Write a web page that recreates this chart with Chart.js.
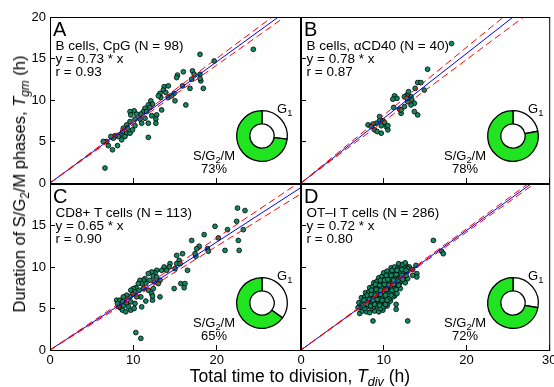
<!DOCTYPE html>
<html>
<head>
<meta charset="utf-8">
<script src="https://cdn.jsdelivr.net/npm/chart.js@4.4.1/dist/chart.umd.min.js"></script>
<style>
  html, body { margin: 0; padding: 0; background: #fff; }
  #wrap { position: relative; width: 554px; height: 387px; overflow: hidden; font-family: 'Liberation Sans', Arial, sans-serif; color: #000; }
  #wrap canvas { position: absolute; }
  .t { position: absolute; white-space: nowrap; }
  .s { font-size: 0.72em; position: relative; top: 0.32em; }
</style>
</head>
<body>
<div id="wrap"></div>
<script>
// panel texts and fit results
const panelLetters = ['A', 'B', 'C', 'D'];
const panelTitles = ['B cells, CpG (N = 98)', 'B cells, \u03b1CD40 (N = 40)', 'CD8+ T cells (N = 113)', 'OT\u2013I T cells (N = 286)'];
const fitSlopes = [0.73, 0.78, 0.65, 0.72];
const fitR = ['0.93', '0.87', '0.90', '0.80'];
const ciHigh = [0.75, 0.817, 0.675, 0.73];
const ciLow = [0.71, 0.743, 0.625, 0.71];
const sg2mPercent = [73, 78, 65, 72];
const xTicks = [0, 10, 20, 30];
const yTicks = [0, 5, 10, 15, 20];

// [Tdiv, Tgm] per cell
const cpgCells = [
  [18.0, 15.5], [24.4, 16.1], [19.7, 14.7], [15.3, 13.0], [16.0, 13.4], [17.1, 13.5], [17.3, 13.1], [15.2, 12.7],
  [17.0, 12.5], [18.0, 13.1], [18.1, 12.3], [18.4, 11.4], [16.8, 11.4], [15.9, 11.7], [16.3, 9.4], [14.9, 10.8],
  [13.7, 11.6], [13.6, 11.2], [13.9, 10.9], [13.2, 10.8], [14.2, 10.3], [14.6, 10.5], [15.0, 9.9], [13.3, 10.3],
  [13.0, 10.5], [12.1, 9.9], [12.3, 9.5], [11.8, 9.4], [12.0, 9.1], [11.4, 9.0], [11.2, 8.6], [11.6, 8.6],
  [10.9, 8.3], [10.1, 8.7], [10.4, 8.3], [9.6, 8.6], [9.7, 8.2], [10.2, 7.7], [10.8, 7.7], [11.4, 7.8],
  [12.2, 8.1], [12.8, 8.2], [13.4, 8.8], [12.7, 7.7], [12.7, 7.2], [11.8, 7.2], [11.0, 7.2], [10.2, 6.9],
  [9.6, 7.4], [9.2, 7.0], [9.3, 6.6], [8.8, 6.6], [8.7, 6.2], [9.2, 6.0], [9.0, 5.6], [8.4, 5.8],
  [8.2, 5.6], [7.8, 5.7], [7.6, 5.4], [7.3, 5.6], [8.1, 4.5], [7.5, 4.0], [7.0, 4.5], [6.8, 5.0],
  [6.4, 5.0], [6.6, 1.8], [11.8, 5.5], [9.6, 6.0], [9.9, 6.4], [8.6, 5.2], [14.2, 11.7], [18.0, 12.6]
];
const cd40Cells = [
  [18.2, 16.8], [15.3, 13.7], [14.1, 12.1], [14.5, 12.1], [14.9, 11.2], [13.8, 11.4], [13.3, 10.4], [12.8, 10.6],
  [12.5, 10.4], [13.4, 10.0], [13.7, 9.6], [13.3, 9.4], [12.9, 9.8], [11.3, 10.5], [11.6, 10.2], [11.1, 10.1],
  [11.2, 9.1], [11.9, 8.9], [12.1, 8.4], [12.5, 9.2], [13.7, 8.6], [14.1, 8.2], [9.5, 8.0], [9.5, 7.5],
  [9.9, 7.5], [10.1, 7.3], [9.1, 7.2], [8.7, 7.1], [8.1, 7.0], [9.7, 6.9], [10.3, 6.8], [10.5, 6.4],
  [8.9, 6.4], [9.2, 6.2], [9.7, 6.0], [10.5, 6.9], [8.5, 6.8], [12.8, 10.2], [12.1, 8.8], [13.0, 11.0]
];
const cd8Cells = [
  [22.5, 17.1], [23.4, 16.8], [22.4, 15.5], [19.8, 14.9], [21.3, 14.5], [23.2, 14.5], [20.2, 13.5], [18.5, 13.9],
  [17.0, 13.2], [17.9, 12.5], [17.6, 12.2], [18.9, 12.2], [19.0, 11.9], [21.0, 12.0], [22.7, 12.0], [22.6, 13.2],
  [17.5, 11.3], [15.9, 11.6], [15.2, 11.4], [15.5, 10.8], [15.2, 10.4], [14.4, 10.4], [16.5, 9.6], [14.9, 7.4],
  [15.7, 8.0], [16.2, 8.0], [16.1, 7.5], [15.6, 10.4], [15.0, 9.8], [14.3, 10.0], [13.7, 10.0], [14.0, 9.6],
  [13.4, 9.6], [12.8, 9.6], [12.6, 9.3], [12.2, 9.4], [11.8, 9.2], [12.4, 8.9], [12.8, 8.8], [13.2, 8.4],
  [13.0, 8.0], [12.5, 8.2], [12.0, 8.4], [11.4, 8.6], [11.2, 8.4], [10.8, 8.4], [11.5, 8.0], [11.0, 8.0],
  [10.6, 8.0], [10.3, 7.5], [10.0, 7.4], [9.7, 7.2], [10.2, 7.0], [10.7, 7.2], [11.2, 7.4], [11.8, 7.2],
  [12.4, 7.4], [13.2, 6.4], [12.3, 6.0], [11.5, 5.9], [10.9, 6.4], [10.4, 6.4], [9.9, 6.7], [9.6, 6.4],
  [9.2, 6.6], [9.0, 6.2], [8.8, 6.4], [8.0, 6.0], [8.4, 6.0], [8.7, 5.8], [9.2, 5.6], [9.7, 5.8],
  [10.2, 5.6], [11.0, 5.2], [8.8, 5.3], [9.4, 5.2], [8.4, 5.1], [8.7, 4.8], [9.7, 4.8], [10.1, 5.0],
  [9.1, 4.6], [10.3, 2.1], [10.9, 1.4], [8.2, 5.3], [8.1, 5.6], [12.2, 6.8], [12.3, 6.5], [17.4, 11.6]
];
const otiCells = [
  [16.0, 13.2], [17.0, 11.9], [17.2, 11.6], [8.7, 3.5], [12.9, 3.5], [11.5, 5.5], [11.5, 4.9], [11.3, 6.5],
  [14.0, 9.2], [14.0, 8.8], [13.5, 9.0], [12.7, 10.2], [13.1, 10.0], [13.5, 9.7], [13.9, 10.2],
  [7.1, 4.4], [7.4, 4.7], [7.9, 4.6], [8.3, 4.5], [8.9, 4.7], [9.4, 4.6], [9.9, 4.8],
  [6.9, 5.1], [7.3, 5.2], [7.7, 5.0], [8.1, 5.3], [8.5, 5.0], [8.8, 5.2], [9.2, 5.3], [9.6, 5.0], [10.0, 5.2], [10.4, 5.3],
  [7.0, 5.7], [7.4, 5.6], [7.8, 5.9], [8.2, 5.7], [8.6, 5.8], [9.0, 5.6], [9.3, 5.9], [9.7, 5.7], [10.1, 5.8], [10.5, 5.6], [10.8, 5.9],
  [7.3, 6.3], [7.7, 6.4], [8.0, 6.2], [8.4, 6.5], [8.8, 6.3], [9.1, 6.4], [9.5, 6.2], [9.9, 6.5], [10.3, 6.3], [10.7, 6.2], [11.1, 6.4],
  [7.8, 6.9], [8.2, 7.0], [8.6, 6.8], [8.9, 7.1], [9.3, 6.9], [9.7, 7.0], [10.1, 6.8], [10.4, 7.1], [10.8, 6.9], [11.2, 7.0], [11.6, 6.8],
  [8.3, 7.5], [8.7, 7.7], [9.0, 7.4], [9.4, 7.6], [9.8, 7.5], [10.2, 7.7], [10.5, 7.4], [10.9, 7.6], [11.3, 7.5], [11.7, 7.7], [12.0, 7.4],
  [8.8, 8.1], [9.2, 8.3], [9.6, 8.0], [10.0, 8.2], [10.3, 8.0], [10.7, 8.3], [11.1, 8.1], [11.5, 8.2], [11.9, 8.0], [12.2, 8.3], [12.6, 8.1],
  [9.4, 8.7], [9.8, 8.9], [10.2, 8.6], [10.6, 8.8], [11.0, 8.7], [11.4, 8.9], [11.8, 8.6], [12.1, 8.8], [12.5, 8.7], [12.9, 8.6],
  [10.0, 9.3], [10.4, 9.5], [10.8, 9.2], [11.2, 9.4], [11.6, 9.3], [12.0, 9.5], [12.4, 9.2], [12.8, 9.4],
  [10.9, 9.9], [11.3, 10.0], [11.7, 9.8], [12.1, 10.1], [12.5, 9.9], [12.9, 9.8],
  [11.8, 10.4], [12.3, 10.3], [12.6, 10.5],
  [7.5, 5.4], [8.0, 5.5], [8.4, 5.3], [8.9, 5.5], [9.5, 5.4], [10.2, 5.5],
  [7.6, 6.0], [8.3, 6.1], [8.7, 6.0], [9.2, 6.1], [9.8, 6.0], [10.4, 6.0],
  [8.0, 6.6], [8.5, 6.7], [9.0, 6.6], [9.6, 6.7], [10.2, 6.6], [10.9, 6.6],
  [8.5, 7.2], [9.1, 7.3], [9.6, 7.2], [10.3, 7.3], [11.0, 7.2], [11.5, 7.3],
  [9.0, 7.9], [9.5, 7.8], [10.1, 7.9], [10.6, 7.8], [11.2, 7.9], [11.8, 7.8],
  [9.6, 8.4], [10.1, 8.4], [10.5, 8.5], [11.2, 8.4], [11.7, 8.4], [12.3, 8.5],
  [10.3, 9.0], [10.9, 9.0], [11.5, 9.1], [12.2, 9.0], [12.7, 9.0],
  [11.0, 9.6], [11.6, 9.6], [12.2, 9.7], [12.7, 9.6]
];
const panelCells = [cpgCells, cd40Cells, cd8Cells, otiCells];

// layout (pixels)
const W = 554, H = 387;
const boxes = [
  { left: 50, top: 17, right: 300, bottom: 183 },
  { left: 301, top: 17, right: 552, bottom: 183 },
  { left: 50, top: 184, right: 300, bottom: 350 },
  { left: 301, top: 184, right: 552, bottom: 350 }
];
const AXW = 40, AXH = 30;   // room for tick labels
const FONT = "'Liberation Sans', Arial, sans-serif";
const cellGreen = '#0e8a64';
const ringGreen = '#1fe41f';
const wrap = document.getElementById('wrap');

const frame = {
  id: 'frame',
  afterDraw(chart) {
    const { ctx, chartArea: a } = chart;
    ctx.save();
    ctx.strokeStyle = '#000';
    ctx.lineWidth = 1;
    ctx.strokeRect(a.left + 0.5, a.top + 0.5, a.right - a.left, a.bottom - a.top);
    ctx.restore();
  }
};

function txt(html, x, baseline, size, align, style) {
  const d = document.createElement('div');
  d.className = 't';
  d.innerHTML = html;
  d.style.fontSize = size + 'px';
  d.style.lineHeight = size + 'px';
  d.style.left = x + 'px';
  d.style.top = (baseline - 0.8465 * size) + 'px';
  if (align === 'center') d.style.transform = 'translateX(-50%)';
  if (style) Object.assign(d.style, style);
  wrap.appendChild(d);
  return d;
}

function showX(i, v) { return (i === 2 && v < 30) || i === 3; }
function showY(i, v) { return (i === 0) || (i === 2 && v < 20); }

function drawPanel(i) {
  const p = boxes[i];
  const canvas = document.createElement('canvas');
  canvas.width = W; canvas.height = H;
  canvas.style.left = '0px'; canvas.style.top = '0px';
  wrap.appendChild(canvas);

  const line = (m, color, dash) => ({
    type: 'line',
    data: [{ x: 0, y: 0 }, { x: 30, y: 30 * m }],
    borderColor: color, borderWidth: 1, borderDash: dash,
    pointRadius: 0, order: 0
  });

  new Chart(canvas, {
    type: 'scatter',
    data: {
      datasets: [
        line(ciHigh[i], '#ff0000', [7, 4]),
        line(ciLow[i], '#ff0000', [7, 4]),
        line(fitSlopes[i], '#0000ff', []),
        {
          data: panelCells[i].map(([x, y]) => ({ x, y })),
          pointRadius: 2.4, pointBackgroundColor: cellGreen,
          pointBorderColor: '#000', pointBorderWidth: 0.8, order: 1
        }
      ]
    },
    options: {
      responsive: false, animation: false, events: [],
      layout: { padding: { left: p.left - AXW, top: p.top, right: W - p.right, bottom: H - p.bottom - AXH } },
      plugins: { legend: { display: false }, tooltip: { enabled: false } },
      scales: {
        x: {
          type: 'linear', min: 0, max: 30,
          afterBuildTicks: s => { s.ticks = xTicks.map(v => ({ value: v })); },
          afterFit: s => { s.height = AXH; s.paddingLeft = 0; s.paddingRight = 0; },
          ticks: { callback: v => showX(i, v) ? String(v) : '', font: { family: FONT, size: 13 }, color: '#000', padding: 8, maxRotation: 0, autoSkip: false },
          grid: { drawOnChartArea: false, tickLength: -5, color: '#000' },
          border: { color: '#000', width: 1 }
        },
        y: {
          type: 'linear', min: 0, max: 20,
          afterBuildTicks: s => { s.ticks = yTicks.map(v => ({ value: v })); },
          afterFit: s => { s.width = AXW; s.paddingTop = 0; s.paddingBottom = 0; },
          ticks: { callback: v => showY(i, v) ? String(v) : '', font: { family: FONT, size: 13 }, color: '#000', padding: 9, autoSkip: false },
          grid: { drawOnChartArea: false, tickLength: -5, color: '#000' },
          border: { color: '#000', width: 1 }
        }
      }
    },
    plugins: [frame]
  });

  // G1 / S-G2-M ring
  const cx = p.left + 211.5, cy = p.top + 119.3;
  const ring = document.createElement('canvas');
  ring.width = 56; ring.height = 56;
  ring.style.left = (cx - 28) + 'px'; ring.style.top = (cy - 28) + 'px';
  wrap.appendChild(ring);
  new Chart(ring, {
    type: 'doughnut',
    data: {
      labels: ['G1', 'S/G2/M'],
      datasets: [{ data: [100 - sg2mPercent[i], sg2mPercent[i]], backgroundColor: ['#ffffff', ringGreen], borderColor: '#000', borderWidth: 1.3 }]
    },
    options: {
      responsive: false, animation: false, events: [], cutout: '48%',
      layout: { padding: 2 },
      plugins: { legend: { display: false }, tooltip: { enabled: false } }
    }
  });

  txt(panelLetters[i], p.left + 3, p.top + 18.5, 20);
  txt(panelTitles[i] + '<br>y = ' + fitSlopes[i].toFixed(2) + ' * x<br>r = ' + fitR[i], p.left + 5.5, p.top + 33.5, 13.5, 'left', { lineHeight: '13px' });
  txt('G<span class="s">1</span>', cx + 15.5, cy - 23, 13);
  txt('S/G<span class="s">2</span>/M', cx - 47.5, cy + 24, 13, 'center');
  txt(sg2mPercent[i] + '%', cx - 47.5, cy + 37, 13, 'center');
}

for (let i = 0; i < 4; i++) drawPanel(i);

// axis titles
txt('Total time to division, <i>T</i><span class="s"><i>div</i></span> (h)', 300, 383, 17.5, 'center');
const yt = document.createElement('div');
yt.className = 't';
yt.innerHTML = 'Duration of S/G<span class="s">2</span>/M phases, <i>T</i><span class="s"><i>gm</i></span> (h)';
Object.assign(yt.style, { fontSize: '16.5px', lineHeight: '16px', left: '19.5px', top: '183.5px', transform: 'translate(-50%, -50%) rotate(-90deg)' });
wrap.appendChild(yt);
</script>
</body>
</html>
